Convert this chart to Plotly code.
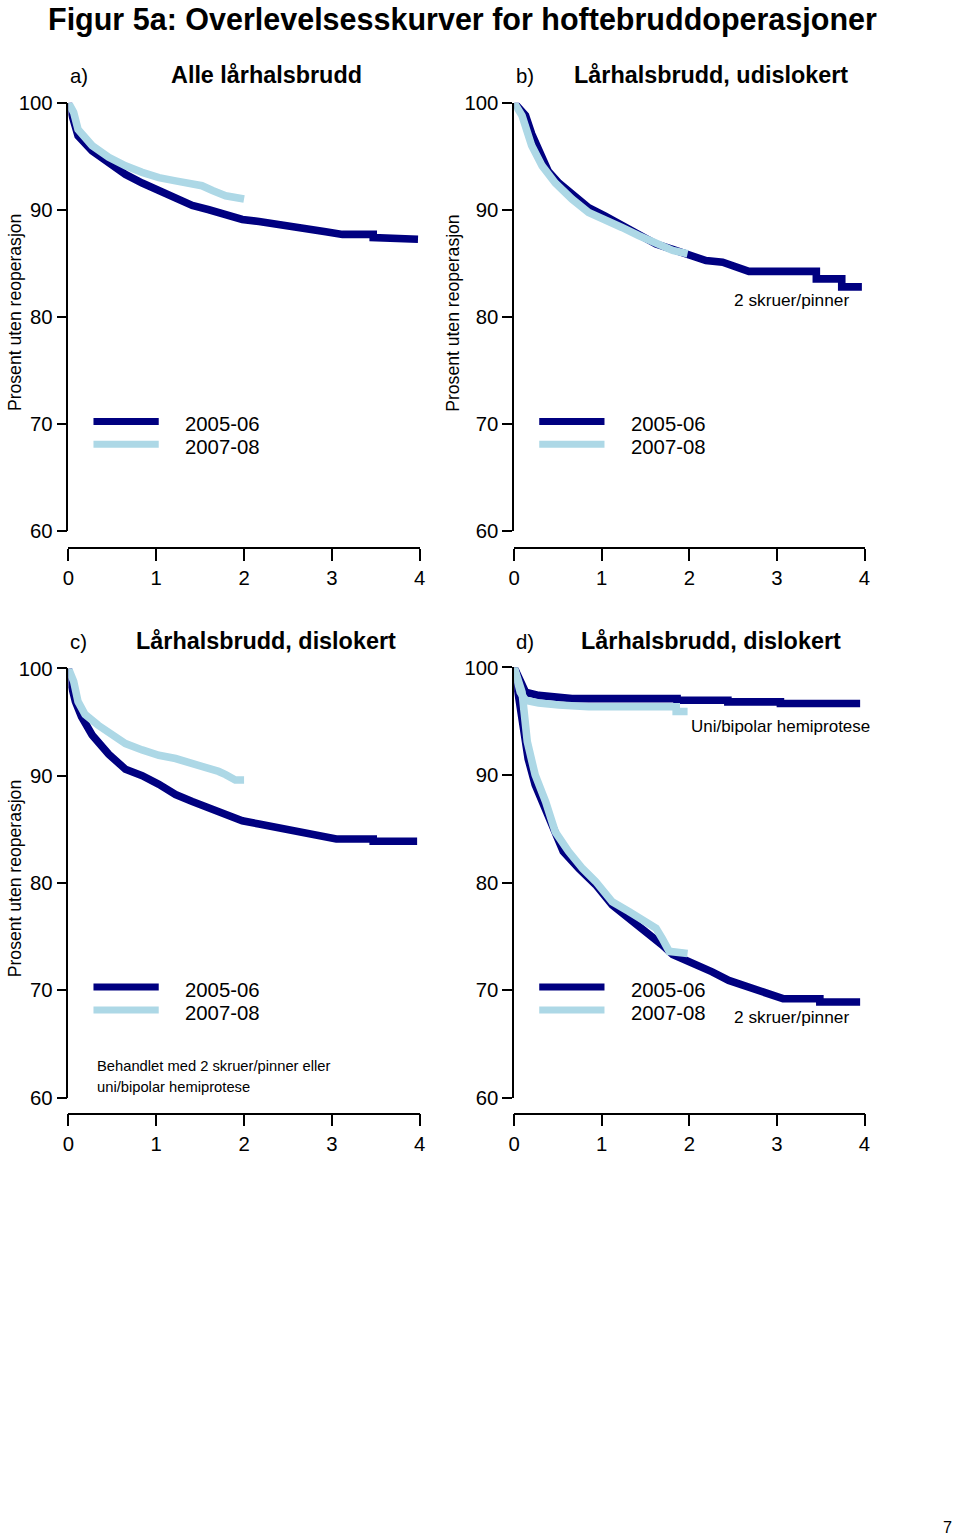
import plotly.graph_objects as go

# ---------------- data (years after operation, % without reoperation) ----------------
x_ticks = [0, 1, 2, 3, 4]
y_ticks = [60, 70, 80, 90, 100]
period_labels = ["2005-06", "2007-08"]

# a) Alle lårhalsbrudd
a_dark_t = [0, 0.04, 0.11, 0.27, 0.46, 0.65, 0.84, 1.03, 1.22, 1.41, 1.60, 1.79, 1.98, 2.17,
            2.36, 2.55, 2.74, 2.93, 3.12, 3.47, 3.47, 3.73, 3.73, 3.98]
a_dark_s = [100, 98.6, 96.9, 95.5, 94.3, 93.3, 92.5, 91.8, 91.0, 90.4, 90.0, 89.6, 89.1, 88.9,
            88.7, 88.45, 88.2, 87.95, 87.7, 87.7, 87.4, 87.4, 87.25, 87.25]
a_light_t = [0, 0.06, 0.11, 0.27, 0.46, 0.65, 0.84, 1.03, 1.22, 1.41, 1.52, 1.64, 1.79, 2.0]
a_light_s = [100, 99.1, 97.5, 96.0, 94.9, 94.1, 93.5, 93.0, 92.7, 92.4, 92.25, 91.8, 91.3, 91.0]

# b) Lårhalsbrudd, udislokert
b_dark_t = [0, 0.13, 0.20, 0.28, 0.39, 0.51, 0.66, 0.85, 1.04, 1.23, 1.42, 1.62, 1.81, 2.00,
            2.19, 2.38, 2.57, 2.68, 3.45, 3.45, 3.74, 3.74, 3.97]
b_dark_s = [100, 98.8, 97.1, 95.5, 93.6, 92.5, 91.5, 90.2, 89.4, 88.5, 87.6, 86.8, 86.3, 85.7,
            85.25, 85.1, 84.6, 84.25, 84.25, 83.55, 83.55, 82.8, 82.8]
b_light_t = [0, 0.09, 0.20, 0.32, 0.47, 0.66, 0.85, 1.04, 1.23, 1.42, 1.62, 1.81, 1.98]
b_light_s = [100, 98.8, 96.0, 94.1, 92.5, 91.0, 89.75, 89.1, 88.35, 87.6, 86.8, 86.2, 85.9]

# c) Lårhalsbrudd, dislokert
c_dark_t = [0, 0.02, 0.08, 0.15, 0.27, 0.46, 0.65, 0.84, 1.03, 1.22, 1.41, 1.60, 1.79, 1.98,
            2.17, 2.36, 2.55, 2.74, 2.93, 3.05, 3.47, 3.47, 3.97]
c_dark_s = [100, 98.9, 96.9, 95.5, 93.8, 92.0, 90.6, 90.0, 89.2, 88.25, 87.6, 87.0, 86.4, 85.8,
            85.5, 85.2, 84.8, 84.55, 84.3, 84.1, 84.1, 83.9, 83.9]
c_light_t = [0, 0.06, 0.11, 0.19, 0.34, 0.50, 0.65, 0.84, 1.03, 1.22, 1.41, 1.60, 1.71, 1.79,
             1.87, 1.90, 2.0]
c_light_s = [100, 98.8, 96.9, 95.7, 94.7, 93.8, 93.0, 92.4, 91.9, 91.6, 91.2, 90.8, 90.4, 90.1,
             89.8, 89.6, 89.6]

# d) Lårhalsbrudd, dislokert - hemiprotese
d_hemi_dark_t = [0, 0.07, 0.13, 0.28, 0.47, 0.66, 1.86, 1.86, 2.44, 2.44, 3.04, 3.04, 3.95]
d_hemi_dark_s = [100, 98.7, 97.7, 97.4, 97.3, 97.1, 97.1, 96.95, 96.95, 96.8, 96.8, 96.65, 96.65]
d_hemi_light_t = [0, 0.07, 0.13, 0.28, 0.51, 0.85, 1.85, 1.85, 1.98]
d_hemi_light_s = [100, 97.7, 96.95, 96.7, 96.5, 96.35, 96.35, 95.9, 95.9]
# d) Lårhalsbrudd, dislokert - 2 skruer/pinner
d_screw_dark_t = [0, 0.05, 0.11, 0.16, 0.24, 0.32, 0.43, 0.56, 0.74, 0.93, 1.12, 1.31, 1.50,
                  1.69, 1.81, 1.96, 2.11, 2.26, 2.45, 2.65, 2.84, 2.95, 3.07, 3.49, 3.49, 3.95]
d_screw_dark_s = [100, 97.4, 94.6, 91.5, 89.1, 87.5, 85.3, 82.9, 81.3, 79.8, 77.9, 76.7, 75.4,
                  74.2, 73.3, 72.8, 72.3, 71.7, 70.9, 70.3, 69.85, 69.4, 69.2, 69.2, 68.9, 68.9]
d_screw_light_t = [0, 0.09, 0.15, 0.24, 0.36, 0.47, 0.62, 0.78, 0.93, 1.12, 1.31, 1.50, 1.62,
                   1.69, 1.77, 1.98]
d_screw_light_s = [100, 97.7, 93.1, 90.0, 87.5, 84.7, 82.9, 81.3, 80.1, 78.2, 77.3, 76.4, 75.75,
                   74.8, 73.6, 73.4]

# ---------------- styling ----------------
DARK = "#000080"
LIGHT = "#ADD8E6"
FONT = "Liberation Sans"
W, H = 960, 1540
OFF = 8                      # page margin around the plot div
SX, SY = W / (W + 2 * OFF), H / (H + 2 * OFF)   # page -> picture scale
FS = 1 / SX                  # font / width compensation


def px(x):
    """target picture x (px) -> paper fraction"""
    return (x / SX - OFF) / W


def py(y):
    """target picture y (px) -> paper fraction"""
    return 1 - (y / SY - OFF) / H


def f(size):
    return round(size * FS, 2)


panels = [
    dict(x0=70, x1=420, ytop=100, ybot=530, xline=547, letter="a)", title="Alle lårhalsbrudd",
         tcx=267, tcy=72, ylab=True, labx=17,
         series=[(a_dark_t, a_dark_s, DARK), (a_light_t, a_light_s, LIGHT)]),
    dict(x0=514, x1=863, ytop=100, ybot=530, xline=547, letter="b)", title="Lårhalsbrudd, udislokert",
         tcx=710, tcy=72, ylab=True, labx=453,
         series=[(b_dark_t, b_dark_s, DARK), (b_light_t, b_light_s, LIGHT)]),
    dict(x0=70, x1=420, ytop=668, ybot=1099, xline=1115, letter="c)", title="Lårhalsbrudd, dislokert",
         tcx=267, tcy=640, ylab=True, labx=17,
         series=[(c_dark_t, c_dark_s, DARK), (c_light_t, c_light_s, LIGHT)]),
    dict(x0=514, x1=863, ytop=667, ybot=1099, xline=1115, letter="d)", title="Lårhalsbrudd, dislokert",
         tcx=710, tcy=640, ylab=False, labx=None,
         series=[(d_hemi_dark_t, d_hemi_dark_s, DARK), (d_screw_dark_t, d_screw_dark_s, DARK),
                 (d_hemi_light_t, d_hemi_light_s, LIGHT), (d_screw_light_t, d_screw_light_s, LIGHT)]),
]

fig = go.Figure()
layout = dict(width=W, height=H, margin=dict(l=0, r=0, t=0, b=0),
              paper_bgcolor="white", plot_bgcolor="white", showlegend=False,
              font=dict(family=FONT, color="black"))
annotations = []
shapes = []

for i, p in enumerate(panels, start=1):
    sfx = "" if i == 1 else str(i)
    layout["xaxis" + sfx] = dict(
        domain=[px(p["x0"]), px(p["x1"])], range=[0, 4], anchor="free", position=py(p["xline"]),
        showline=True, linecolor="black", linewidth=1.5, ticks="outside", ticklen=12,
        tickwidth=1.5, tickcolor="black", tickvals=x_ticks, tickfont=dict(size=f(20), family=FONT),
        showgrid=False, zeroline=False, fixedrange=True)
    layout["yaxis" + sfx] = dict(
        domain=[py(p["ybot"]), py(p["ytop"])], range=[60, 100], anchor="x" + sfx,
        showline=True, linecolor="black", linewidth=1.5, ticks="outside", ticklen=10,
        tickwidth=1.5, tickcolor="black", tickvals=y_ticks, tickfont=dict(size=f(20), family=FONT),
        showgrid=False, zeroline=False, fixedrange=True)
    for t, s, col in p["series"]:
        fig.add_trace(go.Scatter(x=t, y=s, mode="lines", xaxis="x" + sfx, yaxis="y" + sfx,
                                 line=dict(color=col, width=7.6), hoverinfo="skip"))
    # panel letter and title
    annotations.append(dict(text=p["letter"], x=px(p["x0"]), y=py(p["tcy"] + 1), xref="paper",
                            yref="paper", xanchor="left", yanchor="middle", showarrow=False,
                            font=dict(size=f(20), family=FONT)))
    annotations.append(dict(text="<b>" + p["title"] + "</b>", x=px(p["tcx"]), y=py(p["tcy"]),
                            xref="paper", yref="paper", xanchor="center", yanchor="middle",
                            showarrow=False, font=dict(size=f(23), family=FONT)))
    if p["ylab"]:
        annotations.append(dict(text="Prosent uten reoperasjon", x=px(p["labx"]),
                                y=py((p["ytop"] + p["ybot"]) / 2 - 4), xref="paper", yref="paper",
                                xanchor="center", yanchor="middle", textangle=-90, showarrow=False,
                                font=dict(size=f(17.3), family=FONT)))
    # legend keys
    ly = p["ybot"] - 110 if i <= 2 else p["ybot"] - 111
    lx = p["x0"] + 25
    for k, (lab, col) in enumerate(zip(period_labels, [DARK, LIGHT])):
        yy = ly + 23 * k
        shapes.append(dict(type="line", xref="paper", yref="paper", x0=px(lx), x1=px(lx + 65),
                           y0=py(yy), y1=py(yy), line=dict(color=col, width=7)))
        annotations.append(dict(text=lab, x=px(lx + 89), y=py(yy + 3), xref="paper", yref="paper",
                                xanchor="left", yanchor="middle", showarrow=False,
                                font=dict(size=f(20), family=FONT)))

# extra notes
annotations += [
    dict(text="Figur 5a: Overlevelsesskurver for hoftebruddoperasjoner", x=px(463), y=py(16),
         xref="paper", yref="paper", xanchor="center", yanchor="middle", showarrow=False,
         font=dict(size=f(30), family=FONT, weight="bold")),
    dict(text="2 skruer/pinner", x=px(790), y=py(298), xref="paper", yref="paper",
         xanchor="center", yanchor="middle", showarrow=False, font=dict(size=f(17), family=FONT)),
    dict(text="Uni/bipolar hemiprotese", x=px(779), y=py(726), xref="paper", yref="paper",
         xanchor="center", yanchor="middle", showarrow=False, font=dict(size=f(16.7), family=FONT)),
    dict(text="2 skruer/pinner", x=px(790), y=py(1018), xref="paper", yref="paper",
         xanchor="center", yanchor="middle", showarrow=False, font=dict(size=f(17), family=FONT)),
    dict(text="Behandlet med 2 skruer/pinner eller", x=px(97), y=py(1067), xref="paper",
         yref="paper", xanchor="left", yanchor="middle", showarrow=False,
         font=dict(size=f(14.5), family=FONT)),
    dict(text="uni/bipolar hemiprotese", x=px(97), y=py(1088), xref="paper", yref="paper",
         xanchor="left", yanchor="middle", showarrow=False, font=dict(size=f(14.5), family=FONT)),
    dict(text="7", x=1.0, y=py(1530), xref="paper", yref="paper", xanchor="right",
         yanchor="middle", showarrow=False, font=dict(size=f(16), family=FONT)),
]

layout["annotations"] = annotations
layout["shapes"] = shapes
fig.update_layout(**layout)
fig.write_html("out.html")
